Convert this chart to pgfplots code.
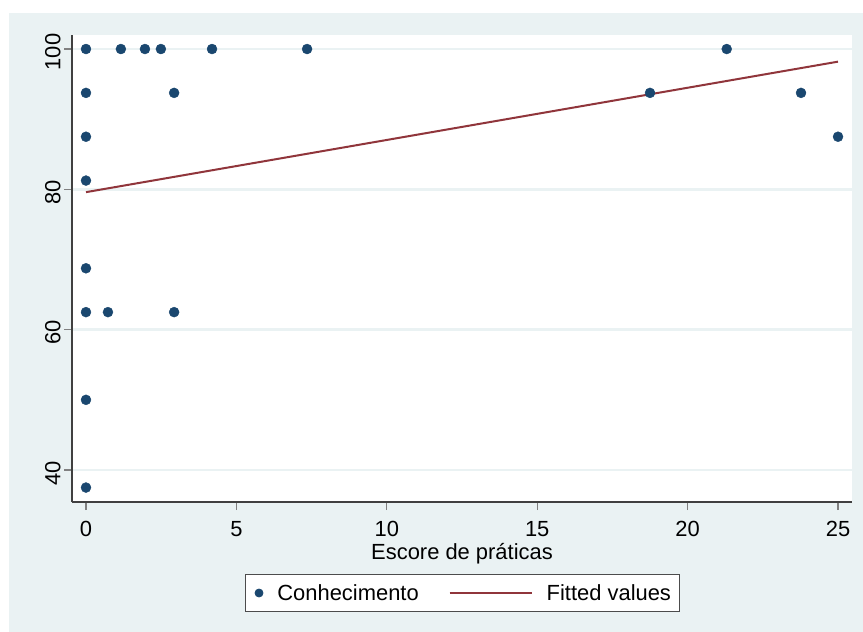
\documentclass[border=0pt]{standalone}
\usepackage{fontspec}
\setmainfont{Liberation Sans}
\usepackage{pgfplots}
\pgfplotsset{compat=1.18}
\definecolor{bgc}{HTML}{EAF2F3}
\definecolor{mk}{HTML}{1A476F}
\definecolor{fitc}{HTML}{90353B}
\begin{document}
\begin{tikzpicture}
\useasboundingbox (-72bp,-130bp) rectangle (791bp,502bp);
\fill[bgc] (-63bp,-130bp) rectangle (791bp,489bp);
\begin{axis}[
  at={(0,0)}, anchor=south west,
  scale only axis, width=780bp, height=467bp,
  xmin=-0.465, xmax=25.465, ymin=35.44, ymax=102,
  axis lines*=left,
  axis line style={draw=black!75, line width=1.1bp},
  axis background/.style={fill=white},
  xtick={0,5,10,15,20,25}, ytick={40,60,80,100},
  tick align=outside, major tick length=8bp,
  tick style={draw=black!50, line width=1.1bp},
  ymajorgrids, grid style={draw=bgc, line width=2.5bp},
  tick label style={font=\fontsize{22}{26}\selectfont},
  /pgf/number format/assume math mode=true,
  xticklabel style={yshift=-8bp},
  yticklabel style={rotate=90, anchor=south, xshift=-3bp},
  xlabel={Escore de práticas},
  xlabel style={font=\fontsize{22}{26}\selectfont, yshift=1bp},
  legend style={at={(0.5,-0.154)}, anchor=north, legend columns=2,
    draw=black!70, line width=0.8bp, fill=white,
    font=\fontsize{22}{26}\selectfont,
    inner xsep=6bp, inner ysep=8bp,
    /tikz/every odd column/.append style={column sep=12bp},
    /tikz/every even column/.append style={column sep=28bp}},
]
\addplot[only marks, mark=*, mark size=5bp, mk, mark options={draw=mk, fill=mk},
  legend image code/.code={\path[draw=none,fill=none] (0bp,0bp) rectangle (12bp,1bp); \fill[mk] (8bp,0bp) circle (4bp);}]
coordinates {
(0,100) (0,93.75) (0,87.5) (0,81.25) (0,68.75) (0,62.5) (0,50) (0,37.5)
(1.16,100) (1.96,100) (2.49,100) (4.19,100) (7.35,100)
(0.73,62.5) (2.93,93.75) (2.93,62.5)
(18.75,93.75) (21.3,100) (23.77,93.75) (25,87.5)
};
\addlegendentry{Conhecimento}
\addplot[fitc, line width=2bp,
  legend image code/.code={\draw[fitc, line width=2bp] (0bp,0bp) -- (82bp,0bp);}]
coordinates {(0,79.6) (25,98.2)};
\addlegendentry{Fitted values}
\end{axis}
\end{tikzpicture}
\end{document}
